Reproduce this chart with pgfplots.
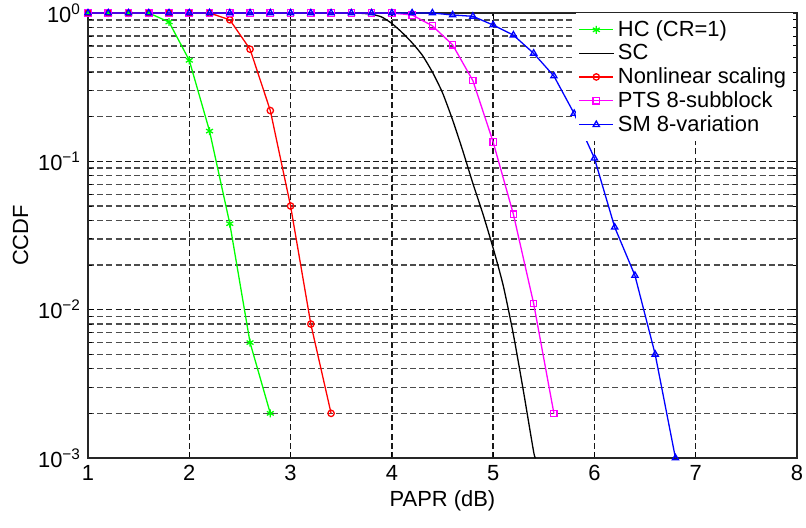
\documentclass[border=0pt]{standalone}
\usepackage{fontspec}
\setmainfont{Liberation Sans}
\usepackage{pgfplots}
\pgfplotsset{compat=1.18}

\definecolor{hcGreen}{RGB}{0,255,0}
\definecolor{nlRed}{RGB}{255,0,0}
\definecolor{ptsMag}{RGB}{255,0,255}
\definecolor{smBlue}{RGB}{0,0,255}

\begin{document}
\begin{tikzpicture}
\begin{axis}[
    scale only axis,
    width=354.5bp, height=222.5bp,
    ymode=log,
    xmin=1, xmax=8, ymin=1e-3, ymax=1,
    xtick={1,2,3,4,5,6,7,8},
    xticklabels={1,2,3,4,5,6,7,8},
    ytick={1e-3,1e-2,1e-1,1},
    yticklabels={10\textsuperscript{−3},10\textsuperscript{−2},10\textsuperscript{−1},10\textsuperscript{0}},
    minor ytick={2e-3,3e-3,4e-3,5e-3,6e-3,7e-3,8e-3,9e-3,
                 2e-2,3e-2,4e-2,5e-2,6e-2,7e-2,8e-2,9e-2,
                 2e-1,3e-1,4e-1,5e-1,6e-1,7e-1,8e-1,9e-1},
    grid=both,
    major grid style={black!90, line width=0.7bp, dash pattern=on 3bp off 1.6bp},
    minor grid style={black!70, line width=0.7bp, dash pattern=on 3bp off 1.6bp},
    tick align=inside,
    major tick length=3bp, minor tick length=2bp,
    tick style={black, line width=0.5pt},
    axis line style={black!85, line width=0.8pt},
    tick label style={font=\fontsize{11}{12}\selectfont},
    label style={font=\fontsize{11}{12}\selectfont},
    xlabel={PAPR (dB)},
    ylabel={CCDF},
    xlabel style={yshift=2bp},
    ylabel style={yshift=-2bp},
    clip=false,
    every axis plot/.append style={line width=0.65pt},
    legend style={
        at={(rel axis cs:0.995,1)}, anchor=north east,
        draw=none, fill=white,
        font=\fontsize{11}{11}\selectfont,
        row sep=-1.5pt, inner sep=1.5pt,
    },
    legend cell align={left},
]

% HC (CR=1)
\addplot[color=hcGreen, mark=asterisk, mark size=2pt] coordinates {
    (1.0,1) (1.2,1) (1.4,1) (1.6,1) (1.8,0.87) (2.0,0.48)
    (2.2,0.16) (2.4,0.038) (2.6,0.006) (2.8,0.002)
};
\addlegendentry{HC (CR=1)}

% SC
\addplot[color=black, no marks, smooth, tension=0.4] coordinates {
    (1.0,1) (3.5,1) (3.7,0.995) (3.8,0.98) (3.9,0.94) (4.0,0.85)
    (4.1,0.74) (4.2,0.63) (4.3,0.52) (4.4,0.40) (4.5,0.29)
    (4.6,0.19) (4.7,0.118) (4.8,0.071) (4.9,0.044) (5.0,0.026)
    (5.1,0.0145) (5.2,0.0068) (5.3,0.0028) (5.4,0.0011) (5.42,0.001)
};
\addlegendentry{SC}

% Nonlinear scaling
\addplot[color=nlRed, mark=o, mark size=1.6pt] coordinates {
    (1.0,1) (1.2,1) (1.4,1) (1.6,1) (1.8,1) (2.0,1) (2.2,1)
    (2.4,0.9) (2.6,0.57) (2.8,0.22) (3.0,0.05) (3.2,0.008) (3.4,0.002)
};
\addlegendentry{Nonlinear scaling}

% PTS 8-subblock
\addplot[color=ptsMag, mark=square, mark size=1.6pt] coordinates {
    (1.0,1) (1.2,1) (1.4,1) (1.6,1) (1.8,1) (2.0,1) (2.2,1) (2.4,1)
    (2.6,1) (2.8,1) (3.0,1) (3.2,1) (3.4,1) (3.6,1) (3.8,1) (4.0,1)
    (4.2,0.97) (4.4,0.82) (4.6,0.61) (4.8,0.35) (5.0,0.135)
    (5.2,0.044) (5.4,0.011) (5.6,0.002)
};
\addlegendentry{PTS 8-subblock}

% SM 8-variation
\addplot[color=smBlue, mark=triangle, mark size=1.8pt] coordinates {
    (1.0,1) (1.2,1) (1.4,1) (1.6,1) (1.8,1) (2.0,1) (2.2,1) (2.4,1)
    (2.6,1) (2.8,1) (3.0,1) (3.2,1) (3.4,1) (3.6,1) (3.8,1) (4.0,1)
    (4.2,1) (4.4,1) (4.6,0.97) (4.8,0.95) (5.0,0.83) (5.2,0.71)
    (5.4,0.535) (5.6,0.376) (5.8,0.21) (6.0,0.105) (6.2,0.036)
    (6.4,0.017) (6.6,0.005) (6.8,0.001)
};
\addlegendentry{SM 8-variation}

\end{axis}
\pgfresetboundingbox
\path[use as bounding box] (-44bp,-35bp) rectangle (359bp,229bp);
\end{tikzpicture}
\end{document}
